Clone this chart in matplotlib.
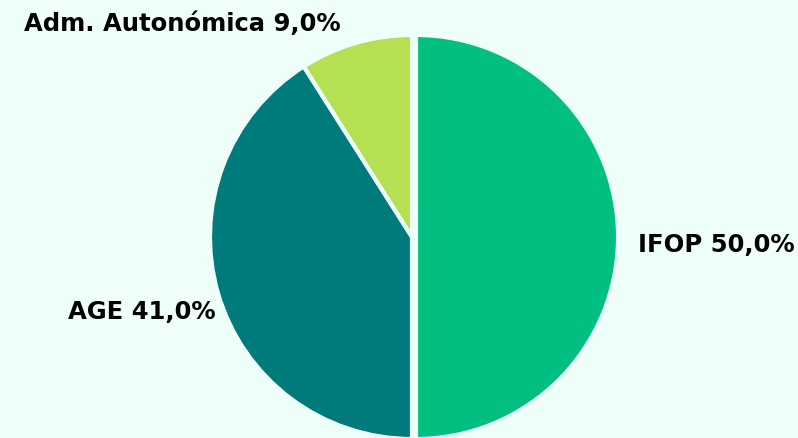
import matplotlib
matplotlib.use("Agg")
import matplotlib.pyplot as plt
from matplotlib.transforms import offset_copy

categories = ["IFOP", "AGE", "Adm. Autonómica"]
values = [50.0, 41.0, 9.0]
colors = ["#00BF80", "#007B7B", "#B4E052"]
bg = "#EEFFF9"

W, H = 798, 438
cx, cy, R = 412, 237, 202

fig = plt.figure(figsize=(W / 100, H / 100), dpi=100, facecolor=bg)
ax = fig.add_axes([0, 0, 1, 1])
ax.set_facecolor(bg)

labels = [f"{c} {f'{v:.1f}'.replace('.', ',')}%" for c, v in zip(categories, values)]

wedges, texts = ax.pie(
    values,
    labels=labels,
    colors=colors,
    startangle=90,
    counterclock=False,
    explode=[0.02, 0, 0],
    labeldistance=1.1,
    wedgeprops=dict(edgecolor=bg, linewidth=3.0),
    textprops=dict(fontsize=17.5, fontweight="bold", family=["DejaVu Sans"], color="#000000"),
)

# fine label offsets in pixels (dx, dy)
label_offsets = [(0, -8), (17, -13), (-9, 0)]
for t, (dx, dy) in zip(texts, label_offsets):
    t.set_transform(offset_copy(t.get_transform(), fig=fig, x=dx, y=dy, units="dots"))

ax.set_xlim(-cx / R, (W - cx) / R)
ax.set_ylim(-(H - cy) / R, cy / R)
ax.set_aspect("auto")
ax.axis("off")

fig.savefig("out.png", dpi=100, facecolor=bg)
